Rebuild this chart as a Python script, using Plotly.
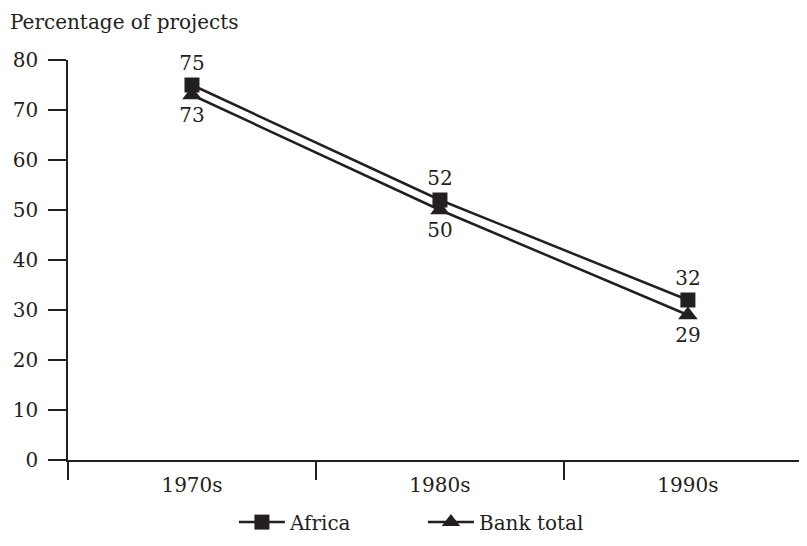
import plotly.graph_objects as go

decades = ["1970s", "1980s", "1990s"]
africa = [75, 52, 32]
bank_total = [73, 50, 29]

ink = "#231f20"
font = "DejaVu Serif"

fig = go.Figure()
fig.add_trace(go.Scatter(
    x=decades, y=africa, name="Africa", mode="lines+markers+text",
    line=dict(color=ink, width=2.5),
    marker=dict(symbol="square", size=15, color=ink),
    text=[str(v) for v in africa], textposition="top center",
    textfont=dict(size=20, color=ink, family=font),
    cliponaxis=False,
))
fig.add_trace(go.Scatter(
    x=decades, y=bank_total, name="Bank total", mode="lines+markers+text",
    line=dict(color=ink, width=2.5),
    marker=dict(symbol="triangle-up", size=17, color=ink),
    text=[str(v) for v in bank_total], textposition="bottom center",
    textfont=dict(size=20, color=ink, family=font),
    cliponaxis=False,
))

# the page body has an 8px margin, so the figure is sized to fit without scrollbars
fig.update_layout(
    width=791, height=530,
    margin=dict(l=60, r=0, t=52, b=78),
    paper_bgcolor="white", plot_bgcolor="white",
    font=dict(family=font, size=20, color=ink),
    showlegend=True,
    legend=dict(orientation="h", x=0.227, xanchor="left", xref="paper",
                y=0.03, yanchor="middle", yref="container",
                font=dict(size=20), itemwidth=46, entrywidth=128),
    annotations=[dict(text="Percentage of projects", x=0, y=1, xref="paper", yref="paper",
                      xanchor="left", yanchor="middle", xshift=-60, yshift=38,
                      showarrow=False, font=dict(size=20))],
)
fig.update_xaxes(
    type="category", range=[-0.5, 2.448], tickson="boundaries",
    showline=True, linecolor=ink, linewidth=1.5,
    ticks="outside", ticklen=18, tickcolor=ink, tickwidth=1.5,
    ticklabelstandoff=6,
    showgrid=False, zeroline=False, automargin=False,
)
fig.update_yaxes(
    range=[0, 80], dtick=10,
    showline=True, linecolor=ink, linewidth=1.5,
    ticks="outside", ticklen=18, tickcolor=ink, tickwidth=1.5,
    ticklabelstandoff=6,
    showgrid=False, zeroline=False, automargin=False,
)

fig.write_html("out.html")
